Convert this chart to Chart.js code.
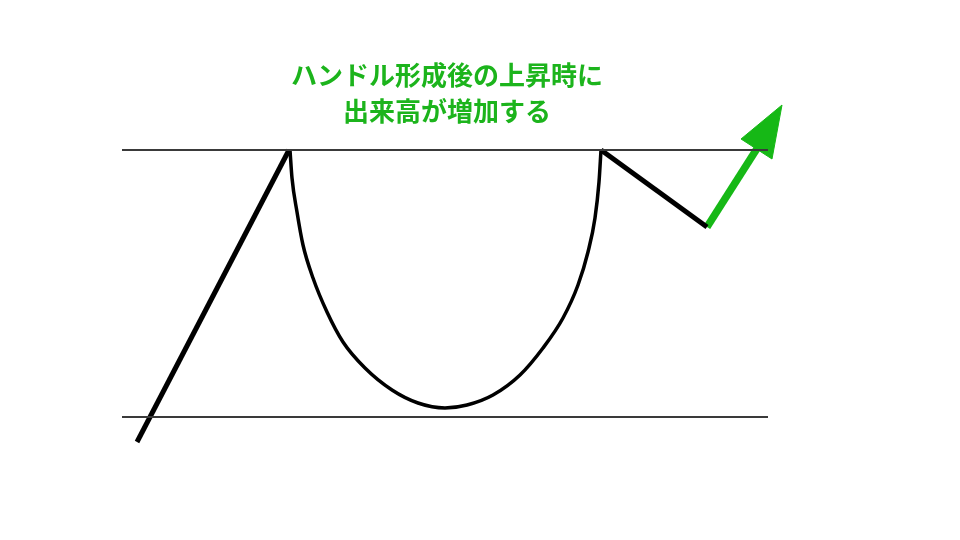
<!DOCTYPE html>
<html>
<head>
<meta charset="utf-8">
<script src="https://cdn.jsdelivr.net/npm/chart.js@4"></script>
<style>
  body { margin: 0; background: #fff; }
  canvas { display: block; }
</style>
</head>
<body>
<canvas id="cupChart" width="960" height="540"></canvas>
<script>
// Cup with handle: x = time, y = price
const levelX = [122, 768];
const resistance = 390;
const support = 123;

const riseX = [137, 289];
const riseY = [98, 390];

const cupX = [290, 292, 297, 303, 313, 327, 343, 365, 392, 418, 445, 467, 493, 520, 543, 563, 578, 588, 595, 599, 601];
const cupY = [390, 362, 328, 295, 262, 228, 198, 172, 150, 137, 132, 135, 145, 165, 192, 222, 255, 288, 322, 358, 390];

const handleX = [601, 707];
const handleY = [390, 313];

const breakoutX = [707, 758];
const breakoutY = [313, 393];

const headX = [782, 741, 772, 782];
const headY = [435, 401, 381, 435];

const noteLines = ["ハンドル形成後の上昇時に", "出来高が増加する"];
const noteX = 447;
const noteY = [465, 429];

function pts(xs, ys) {
    return xs.map((x, i) => ({ x: x, y: ys[i] }));
}

function line(data, color, width, extra) {
    return Object.assign({
        data: data,
        showLine: true,
        borderColor: color,
        backgroundColor: color,
        borderWidth: width,
        pointRadius: 0,
        fill: false
    }, extra || {});
}

// draws the green note text at scale positions
const notePlugin = {
    id: "note",
    afterDatasetsDraw(chart) {
        const ctx = chart.ctx;
        const xs = chart.scales.x;
        const ys = chart.scales.y;
        ctx.save();
        ctx.fillStyle = "#1cb41c";
        ctx.font = "bold 26px 'Noto Sans CJK JP'";
        ctx.textAlign = "center";
        ctx.textBaseline = "middle";
        noteLines.forEach((t, i) => {
            ctx.fillText(t, xs.getPixelForValue(noteX), ys.getPixelForValue(noteY[i]));
        });
        ctx.restore();
    }
};

const ctx = document.getElementById("cupChart").getContext("2d");

new Chart(ctx, {
    type: "scatter",
    data: {
        datasets: [
            line(pts(levelX, [resistance, resistance]), "#3a3a3a", 2),
            line(pts(levelX, [support, support]), "#3a3a3a", 2),
            line(pts(riseX, riseY), "#000", 5, { borderCapStyle: "butt" }),
            line(pts(cupX, cupY), "#000", 3.5, { cubicInterpolationMode: "monotone" }),
            line(pts(handleX, handleY), "#000", 5, { borderJoinStyle: "round" }),
            line(pts(breakoutX, breakoutY), "#16b816", 7.5),
            line(pts(headX, headY), "#16b816", 1, { fill: "shape" })
        ]
    },
    options: {
        responsive: false,
        animation: false,
        layout: { padding: 0 },
        plugins: {
            legend: { display: false },
            tooltip: { enabled: false }
        },
        scales: {
            x: { type: "linear", min: 0, max: 960, display: false },
            y: { type: "linear", min: 0, max: 540, display: false }
        }
    },
    plugins: [notePlugin]
});
</script>
</body>
</html>
